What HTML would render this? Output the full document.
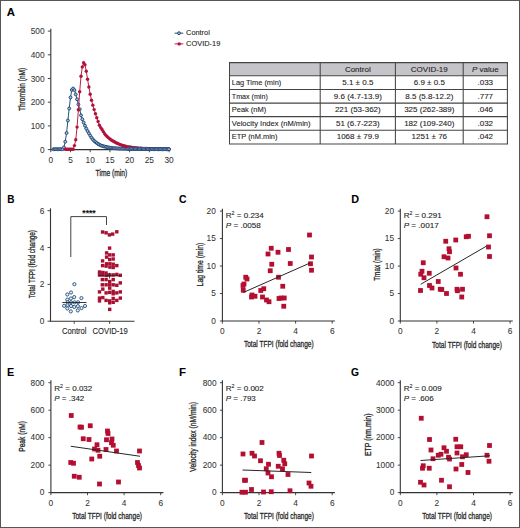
<!DOCTYPE html>
<html><head><meta charset="utf-8"><style>
html,body{margin:0;padding:0;background:#fff;}
svg{display:block;}
text{font-family:"Liberation Sans", sans-serif;stroke:#2a2a2a;stroke-width:0.1px;}
</style></head><body>
<svg width="520" height="528" viewBox="0 0 520 528">
<rect width="520" height="528" fill="#fff"/>
<rect x="0.5" y="0.5" width="519" height="527" fill="none" stroke="#555" stroke-width="1"/>
<text x="6.7" y="16.2" font-size="11.6" text-anchor="start" fill="#000" font-weight="bold" textLength="8.2" lengthAdjust="spacingAndGlyphs" >A</text>
<text x="7.2" y="203.1" font-size="11.6" text-anchor="start" fill="#000" font-weight="bold" textLength="7.2" lengthAdjust="spacingAndGlyphs" >B</text>
<text x="178.9" y="203.2" font-size="11.6" text-anchor="start" fill="#000" font-weight="bold" textLength="7.5" lengthAdjust="spacingAndGlyphs" >C</text>
<text x="351.3" y="203.0" font-size="11.6" text-anchor="start" fill="#000" font-weight="bold" textLength="7.8" lengthAdjust="spacingAndGlyphs" >D</text>
<text x="6.9" y="375.9" font-size="11.6" text-anchor="start" fill="#000" font-weight="bold" textLength="7.2" lengthAdjust="spacingAndGlyphs" >E</text>
<text x="178.9" y="375.9" font-size="11.6" text-anchor="start" fill="#000" font-weight="bold" textLength="7.0" lengthAdjust="spacingAndGlyphs" >F</text>
<text x="351.0" y="375.9" font-size="11.6" text-anchor="start" fill="#000" font-weight="bold" textLength="8.0" lengthAdjust="spacingAndGlyphs" >G</text>
<line x1="50.8" y1="28.7" x2="50.8" y2="149.6" stroke="#333" stroke-width="1.1"/>
<line x1="50.3" y1="149.6" x2="169.6" y2="149.6" stroke="#333" stroke-width="1.1"/>
<line x1="47.8" y1="149.6" x2="50.8" y2="149.6" stroke="#333" stroke-width="0.9"/>
<text x="44.6" y="152.79999999999998" font-size="8.3" text-anchor="end" fill="#333" style="stroke-width:0.05px" >0</text>
<line x1="47.8" y1="125.89999999999999" x2="50.8" y2="125.89999999999999" stroke="#333" stroke-width="0.9"/>
<text x="44.6" y="129.1" font-size="8.3" text-anchor="end" fill="#333" style="stroke-width:0.05px" >100</text>
<line x1="47.8" y1="102.19999999999999" x2="50.8" y2="102.19999999999999" stroke="#333" stroke-width="0.9"/>
<text x="44.6" y="105.39999999999999" font-size="8.3" text-anchor="end" fill="#333" style="stroke-width:0.05px" >200</text>
<line x1="47.8" y1="78.5" x2="50.8" y2="78.5" stroke="#333" stroke-width="0.9"/>
<text x="44.6" y="81.7" font-size="8.3" text-anchor="end" fill="#333" style="stroke-width:0.05px" >300</text>
<line x1="47.8" y1="54.8" x2="50.8" y2="54.8" stroke="#333" stroke-width="0.9"/>
<text x="44.6" y="58.0" font-size="8.3" text-anchor="end" fill="#333" style="stroke-width:0.05px" >400</text>
<line x1="47.8" y1="31.099999999999994" x2="50.8" y2="31.099999999999994" stroke="#333" stroke-width="0.9"/>
<text x="44.6" y="34.3" font-size="8.3" text-anchor="end" fill="#333" style="stroke-width:0.05px" >500</text>
<line x1="50.8" y1="149.6" x2="50.8" y2="152.2" stroke="#333" stroke-width="0.9"/>
<text x="50.8" y="163.0" font-size="8.3" text-anchor="middle" fill="#333" style="stroke-width:0.05px" >0</text>
<line x1="70.5" y1="149.6" x2="70.5" y2="152.2" stroke="#333" stroke-width="0.9"/>
<text x="70.5" y="163.0" font-size="8.3" text-anchor="middle" fill="#333" style="stroke-width:0.05px" >5</text>
<line x1="90.19999999999999" y1="149.6" x2="90.19999999999999" y2="152.2" stroke="#333" stroke-width="0.9"/>
<text x="90.19999999999999" y="163.0" font-size="8.3" text-anchor="middle" fill="#333" style="stroke-width:0.05px" >10</text>
<line x1="109.9" y1="149.6" x2="109.9" y2="152.2" stroke="#333" stroke-width="0.9"/>
<text x="109.9" y="163.0" font-size="8.3" text-anchor="middle" fill="#333" style="stroke-width:0.05px" >15</text>
<line x1="129.6" y1="149.6" x2="129.6" y2="152.2" stroke="#333" stroke-width="0.9"/>
<text x="129.6" y="163.0" font-size="8.3" text-anchor="middle" fill="#333" style="stroke-width:0.05px" >20</text>
<line x1="149.3" y1="149.6" x2="149.3" y2="152.2" stroke="#333" stroke-width="0.9"/>
<text x="149.3" y="163.0" font-size="8.3" text-anchor="middle" fill="#333" style="stroke-width:0.05px" >25</text>
<line x1="169.0" y1="149.6" x2="169.0" y2="152.2" stroke="#333" stroke-width="0.9"/>
<text x="169.0" y="163.0" font-size="8.3" text-anchor="middle" fill="#333" style="stroke-width:0.05px" >30</text>
<text x="111.4" y="175.8" font-size="9.6" text-anchor="middle" fill="#222" style="stroke-width:0.3px" textLength="31.6" lengthAdjust="spacingAndGlyphs" >Time (min)</text>
<text x="25.2" y="89.4" font-size="9.2" text-anchor="middle" fill="#222" style="stroke-width:0.3px" textLength="43.4" lengthAdjust="spacingAndGlyphs" transform="rotate(-90 25.2 89.4)" >Thrombin (nM)</text>
<polyline points="53.43,149.20 54.74,149.20 56.05,149.20 57.37,149.20 58.68,149.20 59.99,149.20 61.31,149.20 62.62,149.16 63.93,147.40 65.25,141.70 66.56,133.00 67.87,120.50 69.19,108.50 70.50,97.40 71.81,89.90 73.13,88.50 74.44,90.10 75.75,94.40 77.07,99.30 78.38,104.50 79.69,109.20 81.01,115.34 82.32,119.27 83.63,122.53 84.95,125.68 86.26,128.52 87.57,131.04 88.89,133.33 90.20,135.57 91.51,137.71 92.83,139.43 94.14,140.84 95.45,142.02 96.77,143.04 98.08,143.95 99.39,144.73 100.71,145.32 102.02,145.80 103.33,146.21 104.65,146.56 105.96,146.87 107.27,147.15 108.59,147.42 109.90,147.66 111.21,147.87 112.53,148.04 113.84,148.17 115.15,148.27 116.47,148.37 117.78,148.45 119.09,148.52 120.41,148.57 121.72,148.62 123.03,148.66 124.35,148.70 125.66,148.74 126.97,148.77 128.29,148.81 129.60,148.84 130.91,148.86 132.23,148.89 133.54,148.91 134.85,148.93 136.17,148.95 137.48,148.97 138.79,148.99 140.11,149.00 141.42,149.01 142.73,149.03 144.05,149.04 145.36,149.05 146.67,149.07 147.99,149.08 149.30,149.09 150.61,149.10 151.93,149.11 153.24,149.12 154.55,149.13 155.87,149.14 157.18,149.15 158.49,149.16 159.81,149.17 161.12,149.17 162.43,149.18 163.75,149.19 165.06,149.19 166.37,149.19 167.69,149.20 169.00,149.20" fill="none" stroke="#24507e" stroke-width="1.0"/>
<circle cx="53.43" cy="149.20" r="1.45" fill="#a9c0d8" stroke="#214a78" stroke-width="1.0"/>
<circle cx="54.74" cy="149.20" r="1.45" fill="#a9c0d8" stroke="#214a78" stroke-width="1.0"/>
<circle cx="56.05" cy="149.20" r="1.45" fill="#a9c0d8" stroke="#214a78" stroke-width="1.0"/>
<circle cx="57.37" cy="149.20" r="1.45" fill="#a9c0d8" stroke="#214a78" stroke-width="1.0"/>
<circle cx="58.68" cy="149.20" r="1.45" fill="#a9c0d8" stroke="#214a78" stroke-width="1.0"/>
<circle cx="59.99" cy="149.20" r="1.45" fill="#a9c0d8" stroke="#214a78" stroke-width="1.0"/>
<circle cx="61.31" cy="149.20" r="1.45" fill="#a9c0d8" stroke="#214a78" stroke-width="1.0"/>
<circle cx="62.62" cy="149.16" r="1.45" fill="#a9c0d8" stroke="#214a78" stroke-width="1.0"/>
<circle cx="63.93" cy="147.40" r="1.45" fill="#a9c0d8" stroke="#214a78" stroke-width="1.0"/>
<circle cx="65.25" cy="141.70" r="1.45" fill="#a9c0d8" stroke="#214a78" stroke-width="1.0"/>
<circle cx="66.56" cy="133.00" r="1.45" fill="#a9c0d8" stroke="#214a78" stroke-width="1.0"/>
<circle cx="67.87" cy="120.50" r="1.45" fill="#a9c0d8" stroke="#214a78" stroke-width="1.0"/>
<circle cx="69.19" cy="108.50" r="1.45" fill="#a9c0d8" stroke="#214a78" stroke-width="1.0"/>
<circle cx="70.50" cy="97.40" r="1.45" fill="#a9c0d8" stroke="#214a78" stroke-width="1.0"/>
<circle cx="71.81" cy="89.90" r="1.45" fill="#a9c0d8" stroke="#214a78" stroke-width="1.0"/>
<circle cx="73.13" cy="88.50" r="1.45" fill="#a9c0d8" stroke="#214a78" stroke-width="1.0"/>
<circle cx="74.44" cy="90.10" r="1.45" fill="#a9c0d8" stroke="#214a78" stroke-width="1.0"/>
<circle cx="75.75" cy="94.40" r="1.45" fill="#a9c0d8" stroke="#214a78" stroke-width="1.0"/>
<circle cx="77.07" cy="99.30" r="1.45" fill="#a9c0d8" stroke="#214a78" stroke-width="1.0"/>
<circle cx="78.38" cy="104.50" r="1.45" fill="#a9c0d8" stroke="#214a78" stroke-width="1.0"/>
<circle cx="79.69" cy="109.20" r="1.45" fill="#a9c0d8" stroke="#214a78" stroke-width="1.0"/>
<circle cx="81.01" cy="115.34" r="1.45" fill="#a9c0d8" stroke="#214a78" stroke-width="1.0"/>
<circle cx="82.32" cy="119.27" r="1.45" fill="#a9c0d8" stroke="#214a78" stroke-width="1.0"/>
<circle cx="83.63" cy="122.53" r="1.45" fill="#a9c0d8" stroke="#214a78" stroke-width="1.0"/>
<circle cx="84.95" cy="125.68" r="1.45" fill="#a9c0d8" stroke="#214a78" stroke-width="1.0"/>
<circle cx="86.26" cy="128.52" r="1.45" fill="#a9c0d8" stroke="#214a78" stroke-width="1.0"/>
<circle cx="87.57" cy="131.04" r="1.45" fill="#a9c0d8" stroke="#214a78" stroke-width="1.0"/>
<circle cx="88.89" cy="133.33" r="1.45" fill="#a9c0d8" stroke="#214a78" stroke-width="1.0"/>
<circle cx="90.20" cy="135.57" r="1.45" fill="#a9c0d8" stroke="#214a78" stroke-width="1.0"/>
<circle cx="91.51" cy="137.71" r="1.45" fill="#a9c0d8" stroke="#214a78" stroke-width="1.0"/>
<circle cx="92.83" cy="139.43" r="1.45" fill="#a9c0d8" stroke="#214a78" stroke-width="1.0"/>
<circle cx="94.14" cy="140.84" r="1.45" fill="#a9c0d8" stroke="#214a78" stroke-width="1.0"/>
<circle cx="95.45" cy="142.02" r="1.45" fill="#a9c0d8" stroke="#214a78" stroke-width="1.0"/>
<circle cx="96.77" cy="143.04" r="1.45" fill="#a9c0d8" stroke="#214a78" stroke-width="1.0"/>
<circle cx="98.08" cy="143.95" r="1.45" fill="#a9c0d8" stroke="#214a78" stroke-width="1.0"/>
<circle cx="99.39" cy="144.73" r="1.45" fill="#a9c0d8" stroke="#214a78" stroke-width="1.0"/>
<circle cx="100.71" cy="145.32" r="1.45" fill="#a9c0d8" stroke="#214a78" stroke-width="1.0"/>
<circle cx="102.02" cy="145.80" r="1.45" fill="#a9c0d8" stroke="#214a78" stroke-width="1.0"/>
<circle cx="103.33" cy="146.21" r="1.45" fill="#a9c0d8" stroke="#214a78" stroke-width="1.0"/>
<circle cx="104.65" cy="146.56" r="1.45" fill="#a9c0d8" stroke="#214a78" stroke-width="1.0"/>
<circle cx="105.96" cy="146.87" r="1.45" fill="#a9c0d8" stroke="#214a78" stroke-width="1.0"/>
<circle cx="107.27" cy="147.15" r="1.45" fill="#a9c0d8" stroke="#214a78" stroke-width="1.0"/>
<circle cx="108.59" cy="147.42" r="1.45" fill="#a9c0d8" stroke="#214a78" stroke-width="1.0"/>
<circle cx="109.90" cy="147.66" r="1.45" fill="#a9c0d8" stroke="#214a78" stroke-width="1.0"/>
<circle cx="111.21" cy="147.87" r="1.45" fill="#a9c0d8" stroke="#214a78" stroke-width="1.0"/>
<circle cx="112.53" cy="148.04" r="1.45" fill="#a9c0d8" stroke="#214a78" stroke-width="1.0"/>
<circle cx="113.84" cy="148.17" r="1.45" fill="#a9c0d8" stroke="#214a78" stroke-width="1.0"/>
<circle cx="115.15" cy="148.27" r="1.45" fill="#a9c0d8" stroke="#214a78" stroke-width="1.0"/>
<circle cx="116.47" cy="148.37" r="1.45" fill="#a9c0d8" stroke="#214a78" stroke-width="1.0"/>
<circle cx="117.78" cy="148.45" r="1.45" fill="#a9c0d8" stroke="#214a78" stroke-width="1.0"/>
<circle cx="119.09" cy="148.52" r="1.45" fill="#a9c0d8" stroke="#214a78" stroke-width="1.0"/>
<circle cx="120.41" cy="148.57" r="1.45" fill="#a9c0d8" stroke="#214a78" stroke-width="1.0"/>
<circle cx="121.72" cy="148.62" r="1.45" fill="#a9c0d8" stroke="#214a78" stroke-width="1.0"/>
<circle cx="123.03" cy="148.66" r="1.45" fill="#a9c0d8" stroke="#214a78" stroke-width="1.0"/>
<circle cx="124.35" cy="148.70" r="1.45" fill="#a9c0d8" stroke="#214a78" stroke-width="1.0"/>
<circle cx="125.66" cy="148.74" r="1.45" fill="#a9c0d8" stroke="#214a78" stroke-width="1.0"/>
<circle cx="126.97" cy="148.77" r="1.45" fill="#a9c0d8" stroke="#214a78" stroke-width="1.0"/>
<circle cx="128.29" cy="148.81" r="1.45" fill="#a9c0d8" stroke="#214a78" stroke-width="1.0"/>
<circle cx="129.60" cy="148.84" r="1.45" fill="#a9c0d8" stroke="#214a78" stroke-width="1.0"/>
<circle cx="130.91" cy="148.86" r="1.45" fill="#a9c0d8" stroke="#214a78" stroke-width="1.0"/>
<circle cx="132.23" cy="148.89" r="1.45" fill="#a9c0d8" stroke="#214a78" stroke-width="1.0"/>
<circle cx="133.54" cy="148.91" r="1.45" fill="#a9c0d8" stroke="#214a78" stroke-width="1.0"/>
<circle cx="134.85" cy="148.93" r="1.45" fill="#a9c0d8" stroke="#214a78" stroke-width="1.0"/>
<circle cx="136.17" cy="148.95" r="1.45" fill="#a9c0d8" stroke="#214a78" stroke-width="1.0"/>
<circle cx="137.48" cy="148.97" r="1.45" fill="#a9c0d8" stroke="#214a78" stroke-width="1.0"/>
<circle cx="138.79" cy="148.99" r="1.45" fill="#a9c0d8" stroke="#214a78" stroke-width="1.0"/>
<circle cx="140.11" cy="149.00" r="1.45" fill="#a9c0d8" stroke="#214a78" stroke-width="1.0"/>
<circle cx="141.42" cy="149.01" r="1.45" fill="#a9c0d8" stroke="#214a78" stroke-width="1.0"/>
<circle cx="142.73" cy="149.03" r="1.45" fill="#a9c0d8" stroke="#214a78" stroke-width="1.0"/>
<circle cx="144.05" cy="149.04" r="1.45" fill="#a9c0d8" stroke="#214a78" stroke-width="1.0"/>
<circle cx="145.36" cy="149.05" r="1.45" fill="#a9c0d8" stroke="#214a78" stroke-width="1.0"/>
<circle cx="146.67" cy="149.07" r="1.45" fill="#a9c0d8" stroke="#214a78" stroke-width="1.0"/>
<circle cx="147.99" cy="149.08" r="1.45" fill="#a9c0d8" stroke="#214a78" stroke-width="1.0"/>
<circle cx="149.30" cy="149.09" r="1.45" fill="#a9c0d8" stroke="#214a78" stroke-width="1.0"/>
<circle cx="150.61" cy="149.10" r="1.45" fill="#a9c0d8" stroke="#214a78" stroke-width="1.0"/>
<circle cx="151.93" cy="149.11" r="1.45" fill="#a9c0d8" stroke="#214a78" stroke-width="1.0"/>
<circle cx="153.24" cy="149.12" r="1.45" fill="#a9c0d8" stroke="#214a78" stroke-width="1.0"/>
<circle cx="154.55" cy="149.13" r="1.45" fill="#a9c0d8" stroke="#214a78" stroke-width="1.0"/>
<circle cx="155.87" cy="149.14" r="1.45" fill="#a9c0d8" stroke="#214a78" stroke-width="1.0"/>
<circle cx="157.18" cy="149.15" r="1.45" fill="#a9c0d8" stroke="#214a78" stroke-width="1.0"/>
<circle cx="158.49" cy="149.16" r="1.45" fill="#a9c0d8" stroke="#214a78" stroke-width="1.0"/>
<circle cx="159.81" cy="149.17" r="1.45" fill="#a9c0d8" stroke="#214a78" stroke-width="1.0"/>
<circle cx="161.12" cy="149.17" r="1.45" fill="#a9c0d8" stroke="#214a78" stroke-width="1.0"/>
<circle cx="162.43" cy="149.18" r="1.45" fill="#a9c0d8" stroke="#214a78" stroke-width="1.0"/>
<circle cx="163.75" cy="149.19" r="1.45" fill="#a9c0d8" stroke="#214a78" stroke-width="1.0"/>
<circle cx="165.06" cy="149.19" r="1.45" fill="#a9c0d8" stroke="#214a78" stroke-width="1.0"/>
<circle cx="166.37" cy="149.19" r="1.45" fill="#a9c0d8" stroke="#214a78" stroke-width="1.0"/>
<circle cx="167.69" cy="149.20" r="1.45" fill="#a9c0d8" stroke="#214a78" stroke-width="1.0"/>
<circle cx="169.00" cy="149.20" r="1.45" fill="#a9c0d8" stroke="#214a78" stroke-width="1.0"/>
<polyline points="65.25,149.20 66.56,149.20 67.87,149.20 69.19,149.20 70.50,149.20 71.81,149.20 73.13,149.20 74.44,145.60 75.75,139.70 77.07,127.10 78.38,109.80 79.69,91.70 81.01,76.30 82.32,66.90 83.63,62.70 84.95,64.80 86.26,71.20 87.57,79.30 88.89,87.00 90.20,94.20 91.51,100.30 92.83,105.14 94.14,109.61 95.45,113.76 96.77,117.68 98.08,121.44 99.39,125.18 100.71,127.62 102.02,129.48 103.33,131.64 104.65,133.73 105.96,135.33 107.27,136.68 108.59,137.86 109.90,138.92 111.21,139.88 112.53,140.75 113.84,141.54 115.15,142.27 116.47,142.95 117.78,143.57 119.09,144.12 120.41,144.63 121.72,145.12 123.03,145.56 124.35,145.96 125.66,146.29 126.97,146.58 128.29,146.83 129.60,147.07 130.91,147.27 132.23,147.44 133.54,147.59 134.85,147.73 136.17,147.87 137.48,147.99 138.79,148.10 140.11,148.21 141.42,148.30 142.73,148.38 144.05,148.46 145.36,148.52 146.67,148.57 147.99,148.63 149.30,148.68 150.61,148.73 151.93,148.78 153.24,148.83 154.55,148.88 155.87,148.92 157.18,148.97 158.49,149.00 159.81,149.04 161.12,149.07 162.43,149.10 163.75,149.13 165.06,149.15 166.37,149.17 167.69,149.18 169.00,149.19" fill="none" stroke="#c01f45" stroke-width="1.0"/>
<circle cx="65.25" cy="149.20" r="1.7" fill="#b0123a"/>
<circle cx="66.56" cy="149.20" r="1.7" fill="#b0123a"/>
<circle cx="67.87" cy="149.20" r="1.7" fill="#b0123a"/>
<circle cx="69.19" cy="149.20" r="1.7" fill="#b0123a"/>
<circle cx="70.50" cy="149.20" r="1.7" fill="#b0123a"/>
<circle cx="71.81" cy="149.20" r="1.7" fill="#b0123a"/>
<circle cx="73.13" cy="149.20" r="1.7" fill="#b0123a"/>
<circle cx="74.44" cy="145.60" r="1.7" fill="#b0123a"/>
<circle cx="75.75" cy="139.70" r="1.7" fill="#b0123a"/>
<circle cx="77.07" cy="127.10" r="1.7" fill="#b0123a"/>
<circle cx="78.38" cy="109.80" r="1.7" fill="#b0123a"/>
<circle cx="79.69" cy="91.70" r="1.7" fill="#b0123a"/>
<circle cx="81.01" cy="76.30" r="1.7" fill="#b0123a"/>
<circle cx="82.32" cy="66.90" r="1.7" fill="#b0123a"/>
<circle cx="83.63" cy="62.70" r="1.7" fill="#b0123a"/>
<circle cx="84.95" cy="64.80" r="1.7" fill="#b0123a"/>
<circle cx="86.26" cy="71.20" r="1.7" fill="#b0123a"/>
<circle cx="87.57" cy="79.30" r="1.7" fill="#b0123a"/>
<circle cx="88.89" cy="87.00" r="1.7" fill="#b0123a"/>
<circle cx="90.20" cy="94.20" r="1.7" fill="#b0123a"/>
<circle cx="91.51" cy="100.30" r="1.7" fill="#b0123a"/>
<circle cx="92.83" cy="105.14" r="1.7" fill="#b0123a"/>
<circle cx="94.14" cy="109.61" r="1.7" fill="#b0123a"/>
<circle cx="95.45" cy="113.76" r="1.7" fill="#b0123a"/>
<circle cx="96.77" cy="117.68" r="1.7" fill="#b0123a"/>
<circle cx="98.08" cy="121.44" r="1.7" fill="#b0123a"/>
<circle cx="99.39" cy="125.18" r="1.7" fill="#b0123a"/>
<circle cx="100.71" cy="127.62" r="1.7" fill="#b0123a"/>
<circle cx="102.02" cy="129.48" r="1.7" fill="#b0123a"/>
<circle cx="103.33" cy="131.64" r="1.7" fill="#b0123a"/>
<circle cx="104.65" cy="133.73" r="1.7" fill="#b0123a"/>
<circle cx="105.96" cy="135.33" r="1.7" fill="#b0123a"/>
<circle cx="107.27" cy="136.68" r="1.7" fill="#b0123a"/>
<circle cx="108.59" cy="137.86" r="1.7" fill="#b0123a"/>
<circle cx="109.90" cy="138.92" r="1.7" fill="#b0123a"/>
<circle cx="111.21" cy="139.88" r="1.7" fill="#b0123a"/>
<circle cx="112.53" cy="140.75" r="1.7" fill="#b0123a"/>
<circle cx="113.84" cy="141.54" r="1.7" fill="#b0123a"/>
<circle cx="115.15" cy="142.27" r="1.7" fill="#b0123a"/>
<circle cx="116.47" cy="142.95" r="1.7" fill="#b0123a"/>
<circle cx="117.78" cy="143.57" r="1.7" fill="#b0123a"/>
<circle cx="119.09" cy="144.12" r="1.7" fill="#b0123a"/>
<circle cx="120.41" cy="144.63" r="1.7" fill="#b0123a"/>
<circle cx="121.72" cy="145.12" r="1.7" fill="#b0123a"/>
<circle cx="123.03" cy="145.56" r="1.7" fill="#b0123a"/>
<circle cx="124.35" cy="145.96" r="1.7" fill="#b0123a"/>
<circle cx="125.66" cy="146.29" r="1.7" fill="#b0123a"/>
<circle cx="126.97" cy="146.58" r="1.7" fill="#b0123a"/>
<circle cx="128.29" cy="146.83" r="1.7" fill="#b0123a"/>
<circle cx="129.60" cy="147.07" r="1.7" fill="#b0123a"/>
<circle cx="130.91" cy="147.27" r="1.7" fill="#b0123a"/>
<circle cx="132.23" cy="147.44" r="1.7" fill="#b0123a"/>
<circle cx="133.54" cy="147.59" r="1.7" fill="#b0123a"/>
<circle cx="134.85" cy="147.73" r="1.7" fill="#b0123a"/>
<circle cx="136.17" cy="147.87" r="1.7" fill="#b0123a"/>
<circle cx="137.48" cy="147.99" r="1.7" fill="#b0123a"/>
<circle cx="138.79" cy="148.10" r="1.7" fill="#b0123a"/>
<circle cx="140.11" cy="148.21" r="1.7" fill="#b0123a"/>
<circle cx="141.42" cy="148.30" r="1.7" fill="#b0123a"/>
<circle cx="142.73" cy="148.38" r="1.7" fill="#b0123a"/>
<circle cx="144.05" cy="148.46" r="1.7" fill="#b0123a"/>
<circle cx="145.36" cy="148.52" r="1.7" fill="#b0123a"/>
<circle cx="146.67" cy="148.57" r="1.7" fill="#b0123a"/>
<circle cx="147.99" cy="148.63" r="1.7" fill="#b0123a"/>
<circle cx="149.30" cy="148.68" r="1.7" fill="#b0123a"/>
<circle cx="150.61" cy="148.73" r="1.7" fill="#b0123a"/>
<circle cx="151.93" cy="148.78" r="1.7" fill="#b0123a"/>
<circle cx="153.24" cy="148.83" r="1.7" fill="#b0123a"/>
<circle cx="154.55" cy="148.88" r="1.7" fill="#b0123a"/>
<circle cx="155.87" cy="148.92" r="1.7" fill="#b0123a"/>
<circle cx="157.18" cy="148.97" r="1.7" fill="#b0123a"/>
<circle cx="158.49" cy="149.00" r="1.7" fill="#b0123a"/>
<circle cx="159.81" cy="149.04" r="1.7" fill="#b0123a"/>
<circle cx="161.12" cy="149.07" r="1.7" fill="#b0123a"/>
<circle cx="162.43" cy="149.10" r="1.7" fill="#b0123a"/>
<circle cx="163.75" cy="149.13" r="1.7" fill="#b0123a"/>
<circle cx="165.06" cy="149.15" r="1.7" fill="#b0123a"/>
<circle cx="166.37" cy="149.17" r="1.7" fill="#b0123a"/>
<circle cx="167.69" cy="149.18" r="1.7" fill="#b0123a"/>
<circle cx="169.00" cy="149.19" r="1.7" fill="#b0123a"/>
<polyline points="128.29,148.81 129.60,148.84 130.91,148.86 132.23,148.89 133.54,148.91 134.85,148.93 136.17,148.95 137.48,148.97 138.79,148.99 140.11,149.00 141.42,149.01 142.73,149.03 144.05,149.04 145.36,149.05 146.67,149.07 147.99,149.08 149.30,149.09 150.61,149.10 151.93,149.11 153.24,149.12 154.55,149.13 155.87,149.14 157.18,149.15 158.49,149.16 159.81,149.17 161.12,149.17 162.43,149.18 163.75,149.19 165.06,149.19 166.37,149.19 167.69,149.20 169.00,149.20" fill="none" stroke="#24507e" stroke-width="1.0"/>
<circle cx="128.29" cy="148.81" r="1.45" fill="#a9c0d8" stroke="#214a78" stroke-width="1.0"/>
<circle cx="129.60" cy="148.84" r="1.45" fill="#a9c0d8" stroke="#214a78" stroke-width="1.0"/>
<circle cx="130.91" cy="148.86" r="1.45" fill="#a9c0d8" stroke="#214a78" stroke-width="1.0"/>
<circle cx="132.23" cy="148.89" r="1.45" fill="#a9c0d8" stroke="#214a78" stroke-width="1.0"/>
<circle cx="133.54" cy="148.91" r="1.45" fill="#a9c0d8" stroke="#214a78" stroke-width="1.0"/>
<circle cx="134.85" cy="148.93" r="1.45" fill="#a9c0d8" stroke="#214a78" stroke-width="1.0"/>
<circle cx="136.17" cy="148.95" r="1.45" fill="#a9c0d8" stroke="#214a78" stroke-width="1.0"/>
<circle cx="137.48" cy="148.97" r="1.45" fill="#a9c0d8" stroke="#214a78" stroke-width="1.0"/>
<circle cx="138.79" cy="148.99" r="1.45" fill="#a9c0d8" stroke="#214a78" stroke-width="1.0"/>
<circle cx="140.11" cy="149.00" r="1.45" fill="#a9c0d8" stroke="#214a78" stroke-width="1.0"/>
<circle cx="141.42" cy="149.01" r="1.45" fill="#a9c0d8" stroke="#214a78" stroke-width="1.0"/>
<circle cx="142.73" cy="149.03" r="1.45" fill="#a9c0d8" stroke="#214a78" stroke-width="1.0"/>
<circle cx="144.05" cy="149.04" r="1.45" fill="#a9c0d8" stroke="#214a78" stroke-width="1.0"/>
<circle cx="145.36" cy="149.05" r="1.45" fill="#a9c0d8" stroke="#214a78" stroke-width="1.0"/>
<circle cx="146.67" cy="149.07" r="1.45" fill="#a9c0d8" stroke="#214a78" stroke-width="1.0"/>
<circle cx="147.99" cy="149.08" r="1.45" fill="#a9c0d8" stroke="#214a78" stroke-width="1.0"/>
<circle cx="149.30" cy="149.09" r="1.45" fill="#a9c0d8" stroke="#214a78" stroke-width="1.0"/>
<circle cx="150.61" cy="149.10" r="1.45" fill="#a9c0d8" stroke="#214a78" stroke-width="1.0"/>
<circle cx="151.93" cy="149.11" r="1.45" fill="#a9c0d8" stroke="#214a78" stroke-width="1.0"/>
<circle cx="153.24" cy="149.12" r="1.45" fill="#a9c0d8" stroke="#214a78" stroke-width="1.0"/>
<circle cx="154.55" cy="149.13" r="1.45" fill="#a9c0d8" stroke="#214a78" stroke-width="1.0"/>
<circle cx="155.87" cy="149.14" r="1.45" fill="#a9c0d8" stroke="#214a78" stroke-width="1.0"/>
<circle cx="157.18" cy="149.15" r="1.45" fill="#a9c0d8" stroke="#214a78" stroke-width="1.0"/>
<circle cx="158.49" cy="149.16" r="1.45" fill="#a9c0d8" stroke="#214a78" stroke-width="1.0"/>
<circle cx="159.81" cy="149.17" r="1.45" fill="#a9c0d8" stroke="#214a78" stroke-width="1.0"/>
<circle cx="161.12" cy="149.17" r="1.45" fill="#a9c0d8" stroke="#214a78" stroke-width="1.0"/>
<circle cx="162.43" cy="149.18" r="1.45" fill="#a9c0d8" stroke="#214a78" stroke-width="1.0"/>
<circle cx="163.75" cy="149.19" r="1.45" fill="#a9c0d8" stroke="#214a78" stroke-width="1.0"/>
<circle cx="165.06" cy="149.19" r="1.45" fill="#a9c0d8" stroke="#214a78" stroke-width="1.0"/>
<circle cx="166.37" cy="149.19" r="1.45" fill="#a9c0d8" stroke="#214a78" stroke-width="1.0"/>
<circle cx="167.69" cy="149.20" r="1.45" fill="#a9c0d8" stroke="#214a78" stroke-width="1.0"/>
<circle cx="169.00" cy="149.20" r="1.45" fill="#a9c0d8" stroke="#214a78" stroke-width="1.0"/>
<line x1="174.6" y1="33.2" x2="183.3" y2="33.2" stroke="#24507e" stroke-width="1.0"/>
<circle cx="179.0" cy="33.2" r="1.45" fill="#a9c0d8" stroke="#214a78" stroke-width="1.0"/>
<text x="186.1" y="35.1" font-size="8.0" text-anchor="start" fill="#222" textLength="23.7" lengthAdjust="spacingAndGlyphs" >Control</text>
<line x1="174.6" y1="43.9" x2="183.3" y2="43.9" stroke="#c01f45" stroke-width="1.0"/>
<circle cx="179.2" cy="43.9" r="1.7" fill="#b0123a"/>
<text x="186.1" y="46.3" font-size="8.0" text-anchor="start" fill="#222" textLength="34.2" lengthAdjust="spacingAndGlyphs" >COVID-19</text>
<rect x="229.5" y="62.6" width="277.9" height="13.100000000000001" fill="#c5c4c9"/>
<line x1="228.95" y1="62.6" x2="507.95" y2="62.6" stroke="#454545" stroke-width="1.05"/>
<line x1="228.95" y1="75.7" x2="507.95" y2="75.7" stroke="#454545" stroke-width="1.05"/>
<line x1="228.95" y1="89.4" x2="507.95" y2="89.4" stroke="#454545" stroke-width="1.05"/>
<line x1="228.95" y1="103.1" x2="507.95" y2="103.1" stroke="#454545" stroke-width="1.05"/>
<line x1="228.95" y1="116.6" x2="507.95" y2="116.6" stroke="#454545" stroke-width="1.05"/>
<line x1="228.95" y1="130.2" x2="507.95" y2="130.2" stroke="#454545" stroke-width="1.05"/>
<line x1="228.95" y1="143.9" x2="507.95" y2="143.9" stroke="#454545" stroke-width="1.05"/>
<line x1="229.5" y1="62.6" x2="229.5" y2="143.9" stroke="#454545" stroke-width="1.05"/>
<line x1="320.2" y1="62.6" x2="320.2" y2="143.9" stroke="#454545" stroke-width="1.05"/>
<line x1="395.4" y1="62.6" x2="395.4" y2="143.9" stroke="#454545" stroke-width="1.05"/>
<line x1="463.2" y1="62.6" x2="463.2" y2="143.9" stroke="#454545" stroke-width="1.05"/>
<line x1="507.4" y1="62.6" x2="507.4" y2="143.9" stroke="#454545" stroke-width="1.05"/>
<text x="357.79999999999995" y="72.0" font-size="8.0" text-anchor="middle" fill="#222" >Control</text>
<text x="429.29999999999995" y="72.0" font-size="8.0" text-anchor="middle" fill="#222" >COVID-19</text>
<text x="485.29999999999995" y="72.0" font-size="8.0" text-anchor="middle" fill="#222"><tspan font-style="italic">P</tspan> value</text>
<text x="231.8" y="84.95000000000002" font-size="8.0" fill="#222" textLength="49.5" lengthAdjust="spacingAndGlyphs">Lag Time (min)</text>
<text x="357.79999999999995" y="84.95000000000002" font-size="8.0" text-anchor="middle" fill="#222" >5.1 ± 0.5</text>
<text x="429.29999999999995" y="84.95000000000002" font-size="8.0" text-anchor="middle" fill="#222" >6.9 ± 0.5</text>
<text x="485.29999999999995" y="84.95000000000002" font-size="8.0" text-anchor="middle" fill="#222" >.033</text>
<text x="231.8" y="98.65" font-size="8.0" fill="#222" textLength="36" lengthAdjust="spacingAndGlyphs">Tmax (min)</text>
<text x="357.79999999999995" y="98.65" font-size="8.0" text-anchor="middle" fill="#222" >9.6 (4.7-13.9)</text>
<text x="429.29999999999995" y="98.65" font-size="8.0" text-anchor="middle" fill="#222" >8.5 (5.8-12.2)</text>
<text x="485.29999999999995" y="98.65" font-size="8.0" text-anchor="middle" fill="#222" >.777</text>
<text x="231.8" y="112.25" font-size="8.0" fill="#222" textLength="34.4" lengthAdjust="spacingAndGlyphs">Peak (nM)</text>
<text x="357.79999999999995" y="112.25" font-size="8.0" text-anchor="middle" fill="#222" >221 (53-362)</text>
<text x="429.29999999999995" y="112.25" font-size="8.0" text-anchor="middle" fill="#222" >325 (262-389)</text>
<text x="485.29999999999995" y="112.25" font-size="8.0" text-anchor="middle" fill="#222" >.046</text>
<text x="231.8" y="125.8" font-size="8.0" fill="#222" textLength="78.8" lengthAdjust="spacingAndGlyphs">Velocity Index (nM/min)</text>
<text x="357.79999999999995" y="125.8" font-size="8.0" text-anchor="middle" fill="#222" >51 (6.7-223)</text>
<text x="429.29999999999995" y="125.8" font-size="8.0" text-anchor="middle" fill="#222" >182 (109-240)</text>
<text x="485.29999999999995" y="125.8" font-size="8.0" text-anchor="middle" fill="#222" >.032</text>
<text x="231.8" y="139.45000000000002" font-size="8.0" fill="#222" textLength="45.6" lengthAdjust="spacingAndGlyphs">ETP (nM.min)</text>
<text x="357.79999999999995" y="139.45000000000002" font-size="8.0" text-anchor="middle" fill="#222" >1068 ± 79.9</text>
<text x="429.29999999999995" y="139.45000000000002" font-size="8.0" text-anchor="middle" fill="#222" >1251 ±  76</text>
<text x="485.29999999999995" y="139.45000000000002" font-size="8.0" text-anchor="middle" fill="#222" >.042</text>
<line x1="50.5" y1="208.3" x2="50.5" y2="321.2" stroke="#333" stroke-width="1.1"/>
<line x1="50.0" y1="321.2" x2="134.5" y2="321.2" stroke="#333" stroke-width="1.1"/>
<line x1="47.5" y1="321.2" x2="50.5" y2="321.2" stroke="#333" stroke-width="0.9"/>
<text x="44.4" y="324.2" font-size="8.3" text-anchor="end" fill="#333" style="stroke-width:0.05px" >0</text>
<line x1="47.5" y1="284.3666666666667" x2="50.5" y2="284.3666666666667" stroke="#333" stroke-width="0.9"/>
<text x="44.4" y="287.3666666666667" font-size="8.3" text-anchor="end" fill="#333" style="stroke-width:0.05px" >2</text>
<line x1="47.5" y1="247.5333333333333" x2="50.5" y2="247.5333333333333" stroke="#333" stroke-width="0.9"/>
<text x="44.4" y="250.5333333333333" font-size="8.3" text-anchor="end" fill="#333" style="stroke-width:0.05px" >4</text>
<line x1="47.5" y1="210.7" x2="50.5" y2="210.7" stroke="#333" stroke-width="0.9"/>
<text x="44.4" y="213.7" font-size="8.3" text-anchor="end" fill="#333" style="stroke-width:0.05px" >6</text>
<line x1="74.2" y1="321.2" x2="74.2" y2="323.8" stroke="#333" stroke-width="0.9"/>
<line x1="109.6" y1="321.2" x2="109.6" y2="323.8" stroke="#333" stroke-width="0.9"/>
<text x="74.2" y="334.2" font-size="8.4" text-anchor="middle" fill="#222" textLength="24.6" lengthAdjust="spacingAndGlyphs" >Control</text>
<text x="110.2" y="334.2" font-size="8.4" text-anchor="middle" fill="#222" textLength="35.2" lengthAdjust="spacingAndGlyphs" >COVID-19</text>
<text x="35.0" y="264.1" font-size="9.2" text-anchor="middle" fill="#222" style="stroke-width:0.3px" textLength="68.2" lengthAdjust="spacingAndGlyphs" transform="rotate(-90 35.0 264.1)" >Total TFPI (fold change)</text>
<polyline points="70.8,257 70.8,216.6 106.5,216.6 106.5,225" fill="none" stroke="#3a3a3a" stroke-width="0.95"/>
<text x="89.0" y="215.8" font-size="9.2" text-anchor="middle" fill="#111" font-weight="bold" textLength="13.4" lengthAdjust="spacingAndGlyphs" >****</text>
<circle cx="74.4" cy="284.2" r="1.6" fill="#e4ebf3" stroke="#27507d" stroke-width="0.9"/>
<circle cx="71" cy="292.5" r="1.6" fill="#e4ebf3" stroke="#27507d" stroke-width="0.9"/>
<circle cx="67.3" cy="294.5" r="1.6" fill="#e4ebf3" stroke="#27507d" stroke-width="0.9"/>
<circle cx="74.2" cy="297.1" r="1.6" fill="#e4ebf3" stroke="#27507d" stroke-width="0.9"/>
<circle cx="81.4" cy="298.1" r="1.6" fill="#e4ebf3" stroke="#27507d" stroke-width="0.9"/>
<circle cx="67.3" cy="299.6" r="1.6" fill="#e4ebf3" stroke="#27507d" stroke-width="0.9"/>
<circle cx="70.9" cy="298.5" r="1.6" fill="#e4ebf3" stroke="#27507d" stroke-width="0.9"/>
<circle cx="64.1" cy="305.8" r="1.6" fill="#e4ebf3" stroke="#27507d" stroke-width="0.9"/>
<circle cx="67.5" cy="305" r="1.6" fill="#e4ebf3" stroke="#27507d" stroke-width="0.9"/>
<circle cx="71" cy="306" r="1.6" fill="#e4ebf3" stroke="#27507d" stroke-width="0.9"/>
<circle cx="74.2" cy="306.9" r="1.6" fill="#e4ebf3" stroke="#27507d" stroke-width="0.9"/>
<circle cx="77.9" cy="306.2" r="1.6" fill="#e4ebf3" stroke="#27507d" stroke-width="0.9"/>
<circle cx="85" cy="306" r="1.6" fill="#e4ebf3" stroke="#27507d" stroke-width="0.9"/>
<circle cx="67.3" cy="308.5" r="1.6" fill="#e4ebf3" stroke="#27507d" stroke-width="0.9"/>
<circle cx="81.5" cy="308.1" r="1.6" fill="#e4ebf3" stroke="#27507d" stroke-width="0.9"/>
<circle cx="70.8" cy="311.4" r="1.6" fill="#e4ebf3" stroke="#27507d" stroke-width="0.9"/>
<circle cx="77.8" cy="310.4" r="1.6" fill="#e4ebf3" stroke="#27507d" stroke-width="0.9"/>
<circle cx="74.6" cy="302.3" r="1.6" fill="#e4ebf3" stroke="#27507d" stroke-width="0.9"/>
<circle cx="71" cy="302.3" r="1.6" fill="#e4ebf3" stroke="#27507d" stroke-width="0.9"/>
<circle cx="78.1" cy="302.3" r="1.6" fill="#e4ebf3" stroke="#27507d" stroke-width="0.9"/>
<circle cx="67.6" cy="302.3" r="1.6" fill="#e4ebf3" stroke="#27507d" stroke-width="0.9"/>
<line x1="62.3" y1="302.5" x2="86.5" y2="302.5" stroke="#222" stroke-width="0.9"/>
<rect x="100.90" y="230.30" width="3.4" height="3.4" fill="#a80f30"/>
<rect x="104.40" y="231.10" width="3.4" height="3.4" fill="#a80f30"/>
<rect x="107.70" y="233.20" width="3.4" height="3.4" fill="#a80f30"/>
<rect x="111.00" y="232.40" width="3.4" height="3.4" fill="#a80f30"/>
<rect x="115.10" y="230.10" width="3.4" height="3.4" fill="#a80f30"/>
<rect x="107.90" y="246.40" width="3.4" height="3.4" fill="#a80f30"/>
<rect x="104.90" y="251.20" width="3.4" height="3.4" fill="#a80f30"/>
<rect x="108.00" y="253.20" width="3.4" height="3.4" fill="#a80f30"/>
<rect x="111.50" y="253.20" width="3.4" height="3.4" fill="#a80f30"/>
<rect x="104.90" y="255.40" width="3.4" height="3.4" fill="#a80f30"/>
<rect x="108.00" y="257.80" width="3.4" height="3.4" fill="#a80f30"/>
<rect x="111.50" y="257.30" width="3.4" height="3.4" fill="#a80f30"/>
<rect x="100.90" y="259.20" width="3.4" height="3.4" fill="#a80f30"/>
<rect x="104.90" y="262.10" width="3.4" height="3.4" fill="#a80f30"/>
<rect x="108.20" y="262.10" width="3.4" height="3.4" fill="#a80f30"/>
<rect x="111.50" y="262.50" width="3.4" height="3.4" fill="#a80f30"/>
<rect x="100.90" y="263.90" width="3.4" height="3.4" fill="#a80f30"/>
<rect x="104.40" y="264.40" width="3.4" height="3.4" fill="#a80f30"/>
<rect x="108.20" y="265.40" width="3.4" height="3.4" fill="#a80f30"/>
<rect x="111.50" y="265.80" width="3.4" height="3.4" fill="#a80f30"/>
<rect x="115.10" y="263.90" width="3.4" height="3.4" fill="#a80f30"/>
<rect x="97.80" y="270.30" width="3.4" height="3.4" fill="#a80f30"/>
<rect x="101.10" y="270.80" width="3.4" height="3.4" fill="#a80f30"/>
<rect x="104.40" y="271.30" width="3.4" height="3.4" fill="#a80f30"/>
<rect x="97.80" y="273.20" width="3.4" height="3.4" fill="#a80f30"/>
<rect x="101.10" y="273.20" width="3.4" height="3.4" fill="#a80f30"/>
<rect x="104.60" y="273.70" width="3.4" height="3.4" fill="#a80f30"/>
<rect x="108.00" y="273.20" width="3.4" height="3.4" fill="#a80f30"/>
<rect x="111.50" y="273.20" width="3.4" height="3.4" fill="#a80f30"/>
<rect x="115.10" y="272.70" width="3.4" height="3.4" fill="#a80f30"/>
<rect x="118.60" y="273.60" width="3.4" height="3.4" fill="#a80f30"/>
<rect x="100.60" y="277.90" width="3.4" height="3.4" fill="#a80f30"/>
<rect x="104.40" y="277.90" width="3.4" height="3.4" fill="#a80f30"/>
<rect x="111.50" y="277.90" width="3.4" height="3.4" fill="#a80f30"/>
<rect x="108.00" y="279.80" width="3.4" height="3.4" fill="#a80f30"/>
<rect x="100.60" y="283.10" width="3.4" height="3.4" fill="#a80f30"/>
<rect x="104.40" y="283.10" width="3.4" height="3.4" fill="#a80f30"/>
<rect x="108.00" y="283.10" width="3.4" height="3.4" fill="#a80f30"/>
<rect x="111.50" y="283.10" width="3.4" height="3.4" fill="#a80f30"/>
<rect x="115.10" y="283.60" width="3.4" height="3.4" fill="#a80f30"/>
<rect x="118.60" y="281.20" width="3.4" height="3.4" fill="#a80f30"/>
<rect x="108.00" y="286.40" width="3.4" height="3.4" fill="#a80f30"/>
<rect x="101.10" y="287.40" width="3.4" height="3.4" fill="#a80f30"/>
<rect x="97.80" y="290.20" width="3.4" height="3.4" fill="#a80f30"/>
<rect x="104.40" y="291.20" width="3.4" height="3.4" fill="#a80f30"/>
<rect x="108.00" y="290.70" width="3.4" height="3.4" fill="#a80f30"/>
<rect x="111.50" y="289.70" width="3.4" height="3.4" fill="#a80f30"/>
<rect x="111.50" y="292.10" width="3.4" height="3.4" fill="#a80f30"/>
<rect x="115.10" y="291.20" width="3.4" height="3.4" fill="#a80f30"/>
<rect x="118.60" y="290.20" width="3.4" height="3.4" fill="#a80f30"/>
<rect x="97.80" y="296.40" width="3.4" height="3.4" fill="#a80f30"/>
<rect x="97.80" y="299.20" width="3.4" height="3.4" fill="#a80f30"/>
<rect x="101.10" y="295.90" width="3.4" height="3.4" fill="#a80f30"/>
<rect x="104.40" y="298.70" width="3.4" height="3.4" fill="#a80f30"/>
<rect x="108.00" y="299.20" width="3.4" height="3.4" fill="#a80f30"/>
<rect x="108.00" y="301.10" width="3.4" height="3.4" fill="#a80f30"/>
<rect x="111.50" y="296.80" width="3.4" height="3.4" fill="#a80f30"/>
<rect x="111.50" y="300.60" width="3.4" height="3.4" fill="#a80f30"/>
<rect x="115.10" y="298.70" width="3.4" height="3.4" fill="#a80f30"/>
<rect x="118.60" y="296.40" width="3.4" height="3.4" fill="#a80f30"/>
<rect x="108.00" y="307.70" width="3.4" height="3.4" fill="#a80f30"/>
<line x1="98.5" y1="275.8" x2="120" y2="275.8" stroke="#222" stroke-width="0.9"/>
<line x1="109.5" y1="272.8" x2="109.5" y2="278.6" stroke="#222" stroke-width="0.8"/>
<line x1="222.4" y1="208.7" x2="222.4" y2="321.0" stroke="#333" stroke-width="1.1"/>
<line x1="221.9" y1="321.0" x2="334.90000000000003" y2="321.0" stroke="#333" stroke-width="1.1"/>
<line x1="219.9" y1="321.0" x2="222.4" y2="321.0" stroke="#333" stroke-width="0.9"/>
<text x="215.8" y="323.8" font-size="8.3" text-anchor="end" fill="#333" style="stroke-width:0.05px" >0</text>
<line x1="219.9" y1="293.525" x2="222.4" y2="293.525" stroke="#333" stroke-width="0.9"/>
<text x="215.8" y="296.325" font-size="8.3" text-anchor="end" fill="#333" style="stroke-width:0.05px" >5</text>
<line x1="219.9" y1="266.05" x2="222.4" y2="266.05" stroke="#333" stroke-width="0.9"/>
<text x="215.8" y="268.85" font-size="8.3" text-anchor="end" fill="#333" style="stroke-width:0.05px" >10</text>
<line x1="219.9" y1="238.575" x2="222.4" y2="238.575" stroke="#333" stroke-width="0.9"/>
<text x="215.8" y="241.375" font-size="8.3" text-anchor="end" fill="#333" style="stroke-width:0.05px" >15</text>
<line x1="219.9" y1="211.1" x2="222.4" y2="211.1" stroke="#333" stroke-width="0.9"/>
<text x="215.8" y="213.9" font-size="8.3" text-anchor="end" fill="#333" style="stroke-width:0.05px" >20</text>
<line x1="222.4" y1="321.0" x2="222.4" y2="323.6" stroke="#333" stroke-width="0.9"/>
<text x="222.4" y="334.2" font-size="8.3" text-anchor="middle" fill="#333" style="stroke-width:0.05px" >0</text>
<line x1="259.0" y1="321.0" x2="259.0" y2="323.6" stroke="#333" stroke-width="0.9"/>
<text x="259.0" y="334.2" font-size="8.3" text-anchor="middle" fill="#333" style="stroke-width:0.05px" >2</text>
<line x1="295.6" y1="321.0" x2="295.6" y2="323.6" stroke="#333" stroke-width="0.9"/>
<text x="295.6" y="334.2" font-size="8.3" text-anchor="middle" fill="#333" style="stroke-width:0.05px" >4</text>
<line x1="332.20000000000005" y1="321.0" x2="332.20000000000005" y2="323.6" stroke="#333" stroke-width="0.9"/>
<text x="332.20000000000005" y="334.2" font-size="8.3" text-anchor="middle" fill="#333" style="stroke-width:0.05px" >6</text>
<text x="278.8" y="347.0" font-size="9.6" text-anchor="middle" fill="#222" style="stroke-width:0.3px" textLength="69.8" lengthAdjust="spacingAndGlyphs" >Total TFPI (fold change)</text>
<text x="202.5" y="264.5" font-size="9.4" text-anchor="middle" fill="#222" style="stroke-width:0.3px" textLength="43.8" lengthAdjust="spacingAndGlyphs" transform="rotate(-90 202.5 264.5)" >Lag time (min)</text>
<rect x="307.10" y="232.60" width="4.8" height="4.8" fill="#b40f30"/>
<rect x="268.85" y="245.85" width="4.8" height="4.8" fill="#b40f30"/>
<rect x="265.60" y="251.60" width="4.8" height="4.8" fill="#b40f30"/>
<rect x="275.60" y="249.85" width="4.8" height="4.8" fill="#b40f30"/>
<rect x="286.10" y="247.10" width="4.8" height="4.8" fill="#b40f30"/>
<rect x="309.10" y="254.60" width="4.8" height="4.8" fill="#b40f30"/>
<rect x="308.10" y="261.35" width="4.8" height="4.8" fill="#b40f30"/>
<rect x="287.85" y="261.10" width="4.8" height="4.8" fill="#b40f30"/>
<rect x="269.35" y="261.85" width="4.8" height="4.8" fill="#b40f30"/>
<rect x="267.85" y="268.35" width="4.8" height="4.8" fill="#b40f30"/>
<rect x="309.10" y="267.85" width="4.8" height="4.8" fill="#b40f30"/>
<rect x="243.35" y="274.85" width="4.8" height="4.8" fill="#b40f30"/>
<rect x="276.10" y="274.85" width="4.8" height="4.8" fill="#b40f30"/>
<rect x="241.60" y="281.60" width="4.8" height="4.8" fill="#b40f30"/>
<rect x="240.85" y="287.85" width="4.8" height="4.8" fill="#b40f30"/>
<rect x="280.35" y="283.85" width="4.8" height="4.8" fill="#b40f30"/>
<rect x="261.35" y="286.35" width="4.8" height="4.8" fill="#b40f30"/>
<rect x="258.35" y="288.10" width="4.8" height="4.8" fill="#b40f30"/>
<rect x="249.60" y="292.60" width="4.8" height="4.8" fill="#b40f30"/>
<rect x="249.10" y="294.60" width="4.8" height="4.8" fill="#b40f30"/>
<rect x="252.60" y="293.85" width="4.8" height="4.8" fill="#b40f30"/>
<rect x="260.10" y="294.60" width="4.8" height="4.8" fill="#b40f30"/>
<rect x="264.10" y="297.60" width="4.8" height="4.8" fill="#b40f30"/>
<rect x="266.60" y="299.35" width="4.8" height="4.8" fill="#b40f30"/>
<rect x="276.60" y="296.10" width="4.8" height="4.8" fill="#b40f30"/>
<rect x="281.85" y="295.60" width="4.8" height="4.8" fill="#b40f30"/>
<rect x="281.35" y="303.85" width="4.8" height="4.8" fill="#b40f30"/>
<rect x="244.60" y="276.60" width="4.8" height="4.8" fill="#b40f30"/>
<rect x="240.60" y="283.10" width="4.8" height="4.8" fill="#b40f30"/>
<rect x="278.60" y="295.60" width="4.8" height="4.8" fill="#b40f30"/>
<line x1="243.25" y1="292.5" x2="310" y2="263" stroke="#262626" stroke-width="1.0"/>
<text x="225.8" y="217.6" font-size="7.4" fill="#222" textLength="38" lengthAdjust="spacingAndGlyphs">R<tspan font-size="4.8" dy="-2.8">2</tspan><tspan dy="2.8"> = 0.234</tspan></text>
<text x="225.8" y="227.6" font-size="7.4" fill="#222" textLength="35" lengthAdjust="spacingAndGlyphs"><tspan font-style="italic">P</tspan> = .0058</text>
<line x1="400.3" y1="208.7" x2="400.3" y2="321.0" stroke="#333" stroke-width="1.1"/>
<line x1="399.8" y1="321.0" x2="512.8000000000001" y2="321.0" stroke="#333" stroke-width="1.1"/>
<line x1="397.8" y1="321.0" x2="400.3" y2="321.0" stroke="#333" stroke-width="0.9"/>
<text x="394.0" y="323.8" font-size="8.3" text-anchor="end" fill="#333" style="stroke-width:0.05px" >0</text>
<line x1="397.8" y1="293.525" x2="400.3" y2="293.525" stroke="#333" stroke-width="0.9"/>
<text x="394.0" y="296.325" font-size="8.3" text-anchor="end" fill="#333" style="stroke-width:0.05px" >5</text>
<line x1="397.8" y1="266.05" x2="400.3" y2="266.05" stroke="#333" stroke-width="0.9"/>
<text x="394.0" y="268.85" font-size="8.3" text-anchor="end" fill="#333" style="stroke-width:0.05px" >10</text>
<line x1="397.8" y1="238.575" x2="400.3" y2="238.575" stroke="#333" stroke-width="0.9"/>
<text x="394.0" y="241.375" font-size="8.3" text-anchor="end" fill="#333" style="stroke-width:0.05px" >15</text>
<line x1="397.8" y1="211.1" x2="400.3" y2="211.1" stroke="#333" stroke-width="0.9"/>
<text x="394.0" y="213.9" font-size="8.3" text-anchor="end" fill="#333" style="stroke-width:0.05px" >20</text>
<line x1="400.3" y1="321.0" x2="400.3" y2="323.6" stroke="#333" stroke-width="0.9"/>
<text x="400.3" y="334.2" font-size="8.3" text-anchor="middle" fill="#333" style="stroke-width:0.05px" >0</text>
<line x1="436.90000000000003" y1="321.0" x2="436.90000000000003" y2="323.6" stroke="#333" stroke-width="0.9"/>
<text x="436.90000000000003" y="334.2" font-size="8.3" text-anchor="middle" fill="#333" style="stroke-width:0.05px" >2</text>
<line x1="473.5" y1="321.0" x2="473.5" y2="323.6" stroke="#333" stroke-width="0.9"/>
<text x="473.5" y="334.2" font-size="8.3" text-anchor="middle" fill="#333" style="stroke-width:0.05px" >4</text>
<line x1="510.1" y1="321.0" x2="510.1" y2="323.6" stroke="#333" stroke-width="0.9"/>
<text x="510.1" y="334.2" font-size="8.3" text-anchor="middle" fill="#333" style="stroke-width:0.05px" >6</text>
<text x="467.0" y="348.4" font-size="9.6" text-anchor="middle" fill="#222" style="stroke-width:0.3px" textLength="69.8" lengthAdjust="spacingAndGlyphs" >Total TFPI (fold change)</text>
<text x="380.0" y="264.6" font-size="9.4" text-anchor="middle" fill="#222" style="stroke-width:0.3px" textLength="32.5" lengthAdjust="spacingAndGlyphs" transform="rotate(-90 380.0 264.6)" >Tmax (min)</text>
<rect x="484.60" y="214.35" width="4.8" height="4.8" fill="#b40f30"/>
<rect x="487.10" y="233.35" width="4.8" height="4.8" fill="#b40f30"/>
<rect x="463.85" y="234.35" width="4.8" height="4.8" fill="#b40f30"/>
<rect x="466.10" y="233.85" width="4.8" height="4.8" fill="#b40f30"/>
<rect x="443.35" y="238.85" width="4.8" height="4.8" fill="#b40f30"/>
<rect x="453.35" y="237.60" width="4.8" height="4.8" fill="#b40f30"/>
<rect x="446.60" y="246.35" width="4.8" height="4.8" fill="#b40f30"/>
<rect x="447.10" y="249.35" width="4.8" height="4.8" fill="#b40f30"/>
<rect x="486.10" y="244.60" width="4.8" height="4.8" fill="#b40f30"/>
<rect x="441.60" y="254.35" width="4.8" height="4.8" fill="#b40f30"/>
<rect x="445.60" y="255.60" width="4.8" height="4.8" fill="#b40f30"/>
<rect x="487.10" y="254.10" width="4.8" height="4.8" fill="#b40f30"/>
<rect x="420.85" y="260.35" width="4.8" height="4.8" fill="#b40f30"/>
<rect x="453.60" y="265.60" width="4.8" height="4.8" fill="#b40f30"/>
<rect x="419.60" y="268.85" width="4.8" height="4.8" fill="#b40f30"/>
<rect x="418.35" y="271.85" width="4.8" height="4.8" fill="#b40f30"/>
<rect x="426.85" y="270.85" width="4.8" height="4.8" fill="#b40f30"/>
<rect x="458.10" y="271.85" width="4.8" height="4.8" fill="#b40f30"/>
<rect x="421.60" y="275.35" width="4.8" height="4.8" fill="#b40f30"/>
<rect x="435.85" y="279.10" width="4.8" height="4.8" fill="#b40f30"/>
<rect x="427.10" y="283.10" width="4.8" height="4.8" fill="#b40f30"/>
<rect x="429.60" y="285.60" width="4.8" height="4.8" fill="#b40f30"/>
<rect x="437.85" y="286.85" width="4.8" height="4.8" fill="#b40f30"/>
<rect x="418.10" y="288.10" width="4.8" height="4.8" fill="#b40f30"/>
<rect x="454.60" y="286.85" width="4.8" height="4.8" fill="#b40f30"/>
<rect x="460.10" y="286.85" width="4.8" height="4.8" fill="#b40f30"/>
<rect x="455.10" y="288.35" width="4.8" height="4.8" fill="#b40f30"/>
<rect x="444.10" y="291.10" width="4.8" height="4.8" fill="#b40f30"/>
<rect x="459.35" y="294.60" width="4.8" height="4.8" fill="#b40f30"/>
<rect x="439.40" y="287.10" width="4.8" height="4.8" fill="#b40f30"/>
<line x1="420.75" y1="284.25" x2="486.25" y2="246.25" stroke="#262626" stroke-width="1.0"/>
<text x="403.7" y="217.6" font-size="7.4" fill="#222" textLength="38" lengthAdjust="spacingAndGlyphs">R<tspan font-size="4.8" dy="-2.8">2</tspan><tspan dy="2.8"> = 0.291</tspan></text>
<text x="403.7" y="227.6" font-size="7.4" fill="#222" textLength="35" lengthAdjust="spacingAndGlyphs"><tspan font-style="italic">P</tspan> = .0017</text>
<line x1="50.9" y1="380.30000000000007" x2="50.9" y2="492.6" stroke="#333" stroke-width="1.1"/>
<line x1="50.4" y1="492.6" x2="163.4" y2="492.6" stroke="#333" stroke-width="1.1"/>
<line x1="48.4" y1="492.6" x2="50.9" y2="492.6" stroke="#333" stroke-width="0.9"/>
<text x="44.4" y="495.40000000000003" font-size="8.3" text-anchor="end" fill="#333" style="stroke-width:0.05px" >0</text>
<line x1="48.4" y1="465.125" x2="50.9" y2="465.125" stroke="#333" stroke-width="0.9"/>
<text x="44.4" y="467.925" font-size="8.3" text-anchor="end" fill="#333" style="stroke-width:0.05px" >200</text>
<line x1="48.4" y1="437.65000000000003" x2="50.9" y2="437.65000000000003" stroke="#333" stroke-width="0.9"/>
<text x="44.4" y="440.45000000000005" font-size="8.3" text-anchor="end" fill="#333" style="stroke-width:0.05px" >400</text>
<line x1="48.4" y1="410.175" x2="50.9" y2="410.175" stroke="#333" stroke-width="0.9"/>
<text x="44.4" y="412.975" font-size="8.3" text-anchor="end" fill="#333" style="stroke-width:0.05px" >600</text>
<line x1="48.4" y1="382.70000000000005" x2="50.9" y2="382.70000000000005" stroke="#333" stroke-width="0.9"/>
<text x="44.4" y="385.50000000000006" font-size="8.3" text-anchor="end" fill="#333" style="stroke-width:0.05px" >800</text>
<line x1="50.9" y1="492.6" x2="50.9" y2="495.20000000000005" stroke="#333" stroke-width="0.9"/>
<text x="50.9" y="505.8" font-size="8.3" text-anchor="middle" fill="#333" style="stroke-width:0.05px" >0</text>
<line x1="87.5" y1="492.6" x2="87.5" y2="495.20000000000005" stroke="#333" stroke-width="0.9"/>
<text x="87.5" y="505.8" font-size="8.3" text-anchor="middle" fill="#333" style="stroke-width:0.05px" >2</text>
<line x1="124.1" y1="492.6" x2="124.1" y2="495.20000000000005" stroke="#333" stroke-width="0.9"/>
<text x="124.1" y="505.8" font-size="8.3" text-anchor="middle" fill="#333" style="stroke-width:0.05px" >4</text>
<line x1="160.70000000000002" y1="492.6" x2="160.70000000000002" y2="495.20000000000005" stroke="#333" stroke-width="0.9"/>
<text x="160.70000000000002" y="505.8" font-size="8.3" text-anchor="middle" fill="#333" style="stroke-width:0.05px" >6</text>
<text x="107.1" y="519.0" font-size="9.6" text-anchor="middle" fill="#222" style="stroke-width:0.3px" textLength="69.8" lengthAdjust="spacingAndGlyphs" >Total TFPI (fold change)</text>
<text x="24.7" y="436.4" font-size="9.4" text-anchor="middle" fill="#222" style="stroke-width:0.3px" textLength="30.8" lengthAdjust="spacingAndGlyphs" transform="rotate(-90 24.7 436.4)" >Peak (nM)</text>
<rect x="68.85" y="413.10" width="4.8" height="4.8" fill="#b40f30"/>
<rect x="77.60" y="424.60" width="4.8" height="4.8" fill="#b40f30"/>
<rect x="79.10" y="424.85" width="4.8" height="4.8" fill="#b40f30"/>
<rect x="87.85" y="423.35" width="4.8" height="4.8" fill="#b40f30"/>
<rect x="105.10" y="428.60" width="4.8" height="4.8" fill="#b40f30"/>
<rect x="105.60" y="431.10" width="4.8" height="4.8" fill="#b40f30"/>
<rect x="80.85" y="436.35" width="4.8" height="4.8" fill="#b40f30"/>
<rect x="86.60" y="437.10" width="4.8" height="4.8" fill="#b40f30"/>
<rect x="104.10" y="437.35" width="4.8" height="4.8" fill="#b40f30"/>
<rect x="109.60" y="436.60" width="4.8" height="4.8" fill="#b40f30"/>
<rect x="109.10" y="440.35" width="4.8" height="4.8" fill="#b40f30"/>
<rect x="110.85" y="442.85" width="4.8" height="4.8" fill="#b40f30"/>
<rect x="94.60" y="442.35" width="4.8" height="4.8" fill="#b40f30"/>
<rect x="92.10" y="446.60" width="4.8" height="4.8" fill="#b40f30"/>
<rect x="95.60" y="447.85" width="4.8" height="4.8" fill="#b40f30"/>
<rect x="103.60" y="447.10" width="4.8" height="4.8" fill="#b40f30"/>
<rect x="114.10" y="448.60" width="4.8" height="4.8" fill="#b40f30"/>
<rect x="137.10" y="448.60" width="4.8" height="4.8" fill="#b40f30"/>
<rect x="97.35" y="453.85" width="4.8" height="4.8" fill="#b40f30"/>
<rect x="89.35" y="456.60" width="4.8" height="4.8" fill="#b40f30"/>
<rect x="68.35" y="460.10" width="4.8" height="4.8" fill="#b40f30"/>
<rect x="71.10" y="460.85" width="4.8" height="4.8" fill="#b40f30"/>
<rect x="135.10" y="460.10" width="4.8" height="4.8" fill="#b40f30"/>
<rect x="136.10" y="463.10" width="4.8" height="4.8" fill="#b40f30"/>
<rect x="137.10" y="465.60" width="4.8" height="4.8" fill="#b40f30"/>
<rect x="71.85" y="473.85" width="4.8" height="4.8" fill="#b40f30"/>
<rect x="76.85" y="474.85" width="4.8" height="4.8" fill="#b40f30"/>
<rect x="97.10" y="481.60" width="4.8" height="4.8" fill="#b40f30"/>
<rect x="116.10" y="479.60" width="4.8" height="4.8" fill="#b40f30"/>
<line x1="70.75" y1="446.25" x2="140" y2="456.25" stroke="#262626" stroke-width="1.0"/>
<text x="54.3" y="390.8" font-size="7.4" fill="#222" textLength="38" lengthAdjust="spacingAndGlyphs">R<tspan font-size="4.8" dy="-2.8">2</tspan><tspan dy="2.8"> = 0.032</tspan></text>
<text x="54.3" y="400.8" font-size="7.4" fill="#222" textLength="30" lengthAdjust="spacingAndGlyphs"><tspan font-style="italic">P</tspan> = .342</text>
<line x1="222.4" y1="380.30000000000007" x2="222.4" y2="492.6" stroke="#333" stroke-width="1.1"/>
<line x1="221.9" y1="492.6" x2="334.90000000000003" y2="492.6" stroke="#333" stroke-width="1.1"/>
<line x1="219.9" y1="492.6" x2="222.4" y2="492.6" stroke="#333" stroke-width="0.9"/>
<text x="216.6" y="495.40000000000003" font-size="8.3" text-anchor="end" fill="#333" style="stroke-width:0.05px" >0</text>
<line x1="219.9" y1="465.125" x2="222.4" y2="465.125" stroke="#333" stroke-width="0.9"/>
<text x="216.6" y="467.925" font-size="8.3" text-anchor="end" fill="#333" style="stroke-width:0.05px" >200</text>
<line x1="219.9" y1="437.65000000000003" x2="222.4" y2="437.65000000000003" stroke="#333" stroke-width="0.9"/>
<text x="216.6" y="440.45000000000005" font-size="8.3" text-anchor="end" fill="#333" style="stroke-width:0.05px" >400</text>
<line x1="219.9" y1="410.175" x2="222.4" y2="410.175" stroke="#333" stroke-width="0.9"/>
<text x="216.6" y="412.975" font-size="8.3" text-anchor="end" fill="#333" style="stroke-width:0.05px" >600</text>
<line x1="219.9" y1="382.70000000000005" x2="222.4" y2="382.70000000000005" stroke="#333" stroke-width="0.9"/>
<text x="216.6" y="385.50000000000006" font-size="8.3" text-anchor="end" fill="#333" style="stroke-width:0.05px" >800</text>
<line x1="222.4" y1="492.6" x2="222.4" y2="495.20000000000005" stroke="#333" stroke-width="0.9"/>
<text x="222.4" y="505.8" font-size="8.3" text-anchor="middle" fill="#333" style="stroke-width:0.05px" >0</text>
<line x1="259.0" y1="492.6" x2="259.0" y2="495.20000000000005" stroke="#333" stroke-width="0.9"/>
<text x="259.0" y="505.8" font-size="8.3" text-anchor="middle" fill="#333" style="stroke-width:0.05px" >2</text>
<line x1="295.6" y1="492.6" x2="295.6" y2="495.20000000000005" stroke="#333" stroke-width="0.9"/>
<text x="295.6" y="505.8" font-size="8.3" text-anchor="middle" fill="#333" style="stroke-width:0.05px" >4</text>
<line x1="332.20000000000005" y1="492.6" x2="332.20000000000005" y2="495.20000000000005" stroke="#333" stroke-width="0.9"/>
<text x="332.20000000000005" y="505.8" font-size="8.3" text-anchor="middle" fill="#333" style="stroke-width:0.05px" >6</text>
<text x="279.0" y="519.0" font-size="9.6" text-anchor="middle" fill="#222" style="stroke-width:0.3px" textLength="69.8" lengthAdjust="spacingAndGlyphs" >Total TFPI (fold change)</text>
<text x="196.5" y="436.8" font-size="9.4" text-anchor="middle" fill="#222" style="stroke-width:0.3px" textLength="69.8" lengthAdjust="spacingAndGlyphs" transform="rotate(-90 196.5 436.8)" >Velocity index (nM/min)</text>
<rect x="259.60" y="440.10" width="4.8" height="4.8" fill="#b40f30"/>
<rect x="240.60" y="451.60" width="4.8" height="4.8" fill="#b40f30"/>
<rect x="249.60" y="450.85" width="4.8" height="4.8" fill="#b40f30"/>
<rect x="252.10" y="453.60" width="4.8" height="4.8" fill="#b40f30"/>
<rect x="276.60" y="450.85" width="4.8" height="4.8" fill="#b40f30"/>
<rect x="277.10" y="453.10" width="4.8" height="4.8" fill="#b40f30"/>
<rect x="309.10" y="453.60" width="4.8" height="4.8" fill="#b40f30"/>
<rect x="258.10" y="458.35" width="4.8" height="4.8" fill="#b40f30"/>
<rect x="281.35" y="457.85" width="4.8" height="4.8" fill="#b40f30"/>
<rect x="266.10" y="461.85" width="4.8" height="4.8" fill="#b40f30"/>
<rect x="282.35" y="461.35" width="4.8" height="4.8" fill="#b40f30"/>
<rect x="275.85" y="463.85" width="4.8" height="4.8" fill="#b40f30"/>
<rect x="280.10" y="466.35" width="4.8" height="4.8" fill="#b40f30"/>
<rect x="263.85" y="466.35" width="4.8" height="4.8" fill="#b40f30"/>
<rect x="265.60" y="470.60" width="4.8" height="4.8" fill="#b40f30"/>
<rect x="269.10" y="474.35" width="4.8" height="4.8" fill="#b40f30"/>
<rect x="285.60" y="472.10" width="4.8" height="4.8" fill="#b40f30"/>
<rect x="242.10" y="477.85" width="4.8" height="4.8" fill="#b40f30"/>
<rect x="243.10" y="477.85" width="4.8" height="4.8" fill="#b40f30"/>
<rect x="306.60" y="480.60" width="4.8" height="4.8" fill="#b40f30"/>
<rect x="308.60" y="483.85" width="4.8" height="4.8" fill="#b40f30"/>
<rect x="249.10" y="487.10" width="4.8" height="4.8" fill="#b40f30"/>
<rect x="239.60" y="489.85" width="4.8" height="4.8" fill="#b40f30"/>
<rect x="243.10" y="489.85" width="4.8" height="4.8" fill="#b40f30"/>
<rect x="261.10" y="489.60" width="4.8" height="4.8" fill="#b40f30"/>
<rect x="268.85" y="489.35" width="4.8" height="4.8" fill="#b40f30"/>
<rect x="287.60" y="488.35" width="4.8" height="4.8" fill="#b40f30"/>
<line x1="242.5" y1="470" x2="311.25" y2="472.5" stroke="#262626" stroke-width="1.0"/>
<text x="225.8" y="390.8" font-size="7.4" fill="#222" textLength="38" lengthAdjust="spacingAndGlyphs">R<tspan font-size="4.8" dy="-2.8">2</tspan><tspan dy="2.8"> = 0.002</tspan></text>
<text x="225.8" y="400.8" font-size="7.4" fill="#222" textLength="30" lengthAdjust="spacingAndGlyphs"><tspan font-style="italic">P</tspan> = .793</text>
<line x1="400.3" y1="380.30000000000007" x2="400.3" y2="492.6" stroke="#333" stroke-width="1.1"/>
<line x1="399.8" y1="492.6" x2="512.8000000000001" y2="492.6" stroke="#333" stroke-width="1.1"/>
<line x1="397.8" y1="492.6" x2="400.3" y2="492.6" stroke="#333" stroke-width="0.9"/>
<text x="394.4" y="495.40000000000003" font-size="8.3" text-anchor="end" fill="#333" style="stroke-width:0.05px" >0</text>
<line x1="397.8" y1="465.125" x2="400.3" y2="465.125" stroke="#333" stroke-width="0.9"/>
<text x="394.4" y="467.925" font-size="8.3" text-anchor="end" fill="#333" style="stroke-width:0.05px" >1000</text>
<line x1="397.8" y1="437.65000000000003" x2="400.3" y2="437.65000000000003" stroke="#333" stroke-width="0.9"/>
<text x="394.4" y="440.45000000000005" font-size="8.3" text-anchor="end" fill="#333" style="stroke-width:0.05px" >2000</text>
<line x1="397.8" y1="410.175" x2="400.3" y2="410.175" stroke="#333" stroke-width="0.9"/>
<text x="394.4" y="412.975" font-size="8.3" text-anchor="end" fill="#333" style="stroke-width:0.05px" >3000</text>
<line x1="397.8" y1="382.70000000000005" x2="400.3" y2="382.70000000000005" stroke="#333" stroke-width="0.9"/>
<text x="394.4" y="385.50000000000006" font-size="8.3" text-anchor="end" fill="#333" style="stroke-width:0.05px" >4000</text>
<line x1="400.3" y1="492.6" x2="400.3" y2="495.20000000000005" stroke="#333" stroke-width="0.9"/>
<text x="400.3" y="505.8" font-size="8.3" text-anchor="middle" fill="#333" style="stroke-width:0.05px" >0</text>
<line x1="436.90000000000003" y1="492.6" x2="436.90000000000003" y2="495.20000000000005" stroke="#333" stroke-width="0.9"/>
<text x="436.90000000000003" y="505.8" font-size="8.3" text-anchor="middle" fill="#333" style="stroke-width:0.05px" >2</text>
<line x1="473.5" y1="492.6" x2="473.5" y2="495.20000000000005" stroke="#333" stroke-width="0.9"/>
<text x="473.5" y="505.8" font-size="8.3" text-anchor="middle" fill="#333" style="stroke-width:0.05px" >4</text>
<line x1="510.1" y1="492.6" x2="510.1" y2="495.20000000000005" stroke="#333" stroke-width="0.9"/>
<text x="510.1" y="505.8" font-size="8.3" text-anchor="middle" fill="#333" style="stroke-width:0.05px" >6</text>
<text x="457.1" y="519.0" font-size="9.6" text-anchor="middle" fill="#222" style="stroke-width:0.3px" textLength="69.8" lengthAdjust="spacingAndGlyphs" >Total TFPI (fold change)</text>
<text x="370.8" y="434.8" font-size="9.4" text-anchor="middle" fill="#222" style="stroke-width:0.3px" textLength="42.6" lengthAdjust="spacingAndGlyphs" transform="rotate(-90 370.8 434.8)" >ETP (nm.min)</text>
<rect x="418.85" y="415.85" width="4.8" height="4.8" fill="#b40f30"/>
<rect x="427.10" y="437.10" width="4.8" height="4.8" fill="#b40f30"/>
<rect x="453.35" y="436.85" width="4.8" height="4.8" fill="#b40f30"/>
<rect x="454.60" y="444.35" width="4.8" height="4.8" fill="#b40f30"/>
<rect x="458.35" y="444.35" width="4.8" height="4.8" fill="#b40f30"/>
<rect x="441.60" y="445.35" width="4.8" height="4.8" fill="#b40f30"/>
<rect x="428.60" y="447.60" width="4.8" height="4.8" fill="#b40f30"/>
<rect x="444.10" y="448.85" width="4.8" height="4.8" fill="#b40f30"/>
<rect x="454.60" y="450.60" width="4.8" height="4.8" fill="#b40f30"/>
<rect x="487.10" y="443.10" width="4.8" height="4.8" fill="#b40f30"/>
<rect x="435.85" y="452.85" width="4.8" height="4.8" fill="#b40f30"/>
<rect x="438.60" y="451.85" width="4.8" height="4.8" fill="#b40f30"/>
<rect x="463.85" y="452.35" width="4.8" height="4.8" fill="#b40f30"/>
<rect x="460.10" y="454.35" width="4.8" height="4.8" fill="#b40f30"/>
<rect x="446.10" y="454.85" width="4.8" height="4.8" fill="#b40f30"/>
<rect x="447.10" y="456.60" width="4.8" height="4.8" fill="#b40f30"/>
<rect x="430.60" y="456.35" width="4.8" height="4.8" fill="#b40f30"/>
<rect x="484.60" y="452.85" width="4.8" height="4.8" fill="#b40f30"/>
<rect x="486.60" y="458.85" width="4.8" height="4.8" fill="#b40f30"/>
<rect x="420.85" y="463.35" width="4.8" height="4.8" fill="#b40f30"/>
<rect x="420.10" y="465.85" width="4.8" height="4.8" fill="#b40f30"/>
<rect x="426.85" y="465.85" width="4.8" height="4.8" fill="#b40f30"/>
<rect x="459.35" y="462.10" width="4.8" height="4.8" fill="#b40f30"/>
<rect x="453.60" y="466.60" width="4.8" height="4.8" fill="#b40f30"/>
<rect x="465.60" y="470.10" width="4.8" height="4.8" fill="#b40f30"/>
<rect x="418.10" y="479.85" width="4.8" height="4.8" fill="#b40f30"/>
<rect x="421.60" y="482.60" width="4.8" height="4.8" fill="#b40f30"/>
<rect x="439.10" y="477.85" width="4.8" height="4.8" fill="#b40f30"/>
<rect x="447.10" y="484.35" width="4.8" height="4.8" fill="#b40f30"/>
<line x1="420.5" y1="460.5" x2="490" y2="455.75" stroke="#262626" stroke-width="1.0"/>
<text x="403.7" y="390.8" font-size="7.4" fill="#222" textLength="38" lengthAdjust="spacingAndGlyphs">R<tspan font-size="4.8" dy="-2.8">2</tspan><tspan dy="2.8"> = 0.009</tspan></text>
<text x="403.7" y="400.8" font-size="7.4" fill="#222" textLength="30" lengthAdjust="spacingAndGlyphs"><tspan font-style="italic">P</tspan> = .606</text>
</svg></body></html>
